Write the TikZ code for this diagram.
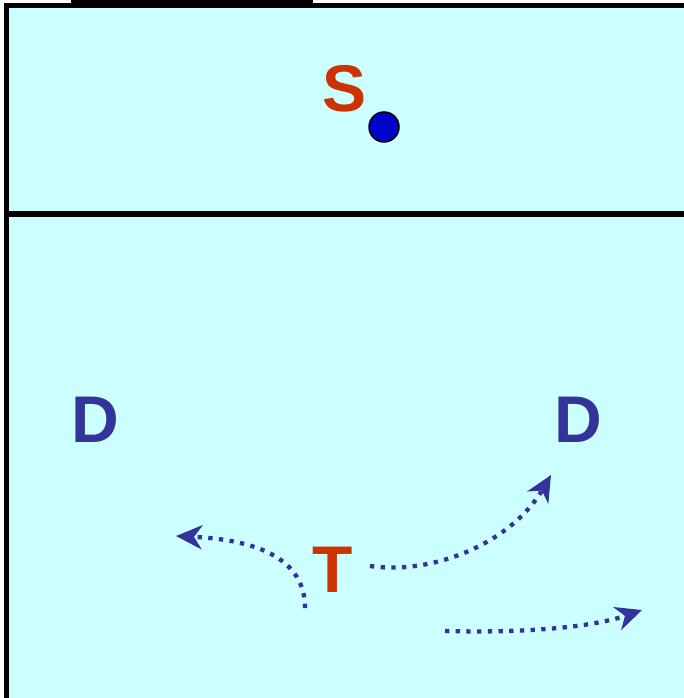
\documentclass[tikz,border=0pt]{standalone}
\usepackage{fontspec}
\setmainfont{Liberation Sans}
\usetikzlibrary{arrows.meta}
\definecolor{bgc}{HTML}{CCFFFF}
\definecolor{redc}{HTML}{CC3300}
\definecolor{bluec}{HTML}{333399}
\definecolor{ballc}{HTML}{0000CC}
\tikzset{
  lbl/.style={inner sep=0pt, anchor=base, font=\fontsize{66}{66}\selectfont\bfseries},
  move/.style={draw=bluec, line width=4.3pt, dash pattern=on 4.3pt off 6.4pt,
    -{Stealth[length=26pt, width=24pt, inset=8pt, fill=bluec]}},
  wall/.style={draw=black, line width=5pt}
}
\begin{document}
\begin{tikzpicture}[x=1pt, y=-1pt]
\useasboundingbox (0,0) rectangle (684,698);
\fill[bgc] (6.5,5.5) rectangle (684,698);
\fill[black] (71,0) rectangle (313,8);
\draw[wall] (4,5.5) -- (684,5.5);
\draw[wall] (6.5,3) -- (6.5,698);
\draw[wall, line width=5.5pt] (4,214) -- (684,214);
\node[lbl, text=redc] (S) at (345,112) {S};
\node[circle, draw=black, line width=1.5pt, fill=ballc, minimum size=30pt, inner sep=0pt] (ball) at (384,127) {};
\node[lbl, text=bluec] (D1) at (95,442) {D};
\node[lbl, text=bluec] (D2) at (578,442) {D};
\node[lbl, text=redc] (T) at (333,592) {T};
\coordinate (a1s) at (305,608);
\coordinate (a1e) at (176,536);
\coordinate (a2s) at (370,566);
\coordinate (a2e) at (551,475);
\coordinate (a3s) at (445,631);
\coordinate (a3e) at (642,610);
\draw[move] (a1s) .. controls (305,560) and (260,540) .. (a1e);
\draw[move] (a2s) .. controls (430,575) and (510,545) .. (a2e);
\draw[move] (a3s) .. controls (520,633) and (590,628) .. (a3e);
\end{tikzpicture}
\end{document}
